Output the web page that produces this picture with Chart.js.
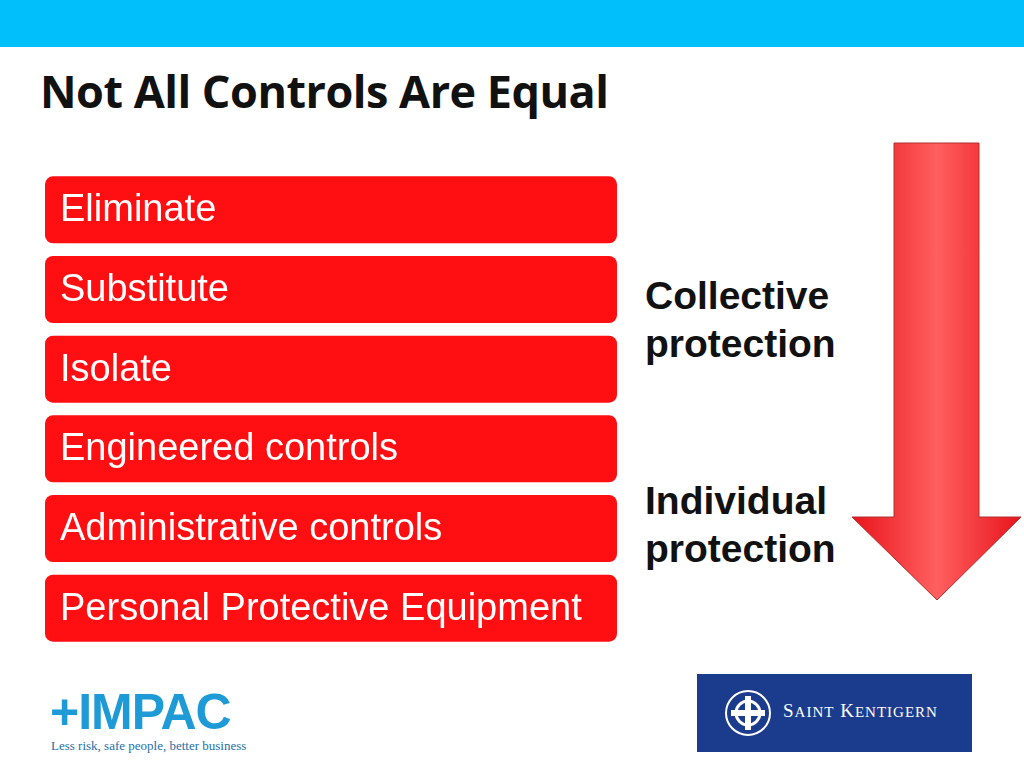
<!DOCTYPE html>
<html><head><meta charset="utf-8">
<script src="https://cdn.jsdelivr.net/npm/chart.js@4"></script>
<style>
body{margin:0;width:1024px;height:768px;overflow:hidden;background:#fff;position:relative;font-family:"Liberation Sans",Arial,sans-serif}
#band{position:absolute;left:0;top:0;width:1024px;height:47px;background:#00BFFA}
#title{position:absolute;left:40px;top:60px;font:bold 45px "Open Sans",sans-serif;letter-spacing:-0.5px;color:#111}
#wrap{position:absolute;left:45px;top:170px;width:572px;height:478px}
.side{position:absolute;left:645px;font:bold 39px "Liberation Sans",Arial;color:#111;line-height:48px}
#arrow{position:absolute;left:850px;top:140px}
#impac{position:absolute;left:50px;top:688px;color:#1E9BD7;font:900 50px "Liberation Sans",Arial;letter-spacing:-1px;line-height:48px}
#tag{position:absolute;left:51px;top:738px;font:13px "Liberation Serif",serif;color:#1E6FA8}
#sk{position:absolute;left:697px;top:674px;width:275px;height:78px;background:#1B3C8C;color:#fff}
#skt{position:absolute;left:86px;top:26px;font:19px "Liberation Serif",serif;letter-spacing:1px}
</style></head><body>
<div id="band"></div>
<div id="title">Not All Controls Are Equal</div>
<div id="wrap"><canvas id="c"></canvas></div>
<div class="side" style="top:272px">Collective<br>protection</div>
<div class="side" style="top:477px">Individual<br>protection</div>
<svg id="arrow" width="175" height="465">
<defs><linearGradient id="g" x1="0" y1="0" x2="1" y2="0"><stop offset="0" stop-color="#E8141C"/><stop offset="0.5" stop-color="#FF5F5F"/><stop offset="1" stop-color="#E8141C"/></linearGradient></defs>
<polygon points="44,3 129,3 129,377 171,377 87,460 2,377 44,377" fill="url(#g)" stroke="#B03030" stroke-width="1"/>
</svg>
<div id="impac">+IMPAC</div>
<div id="tag">Less risk, safe people, better business</div>
<div id="sk"><svg style="position:absolute;left:26px;top:14px" width="50" height="50"><circle cx="25" cy="25" r="22" fill="none" stroke="#fff" stroke-width="2"/><circle cx="25" cy="25" r="12" fill="none" stroke="#fff" stroke-width="3"/><rect x="22" y="8" width="6" height="34" fill="#fff"/><rect x="8" y="22" width="34" height="6" fill="#fff"/></svg><div id="skt">S<span style="font-size:15px">AINT</span> K<span style="font-size:15px">ENTIGERN</span></div></div>
<script>
const categories=["Eliminate","Substitute","Isolate","Engineered controls","Administrative controls","Personal Protective Equipment"];
const values=[1,1,1,1,1,1];
const labelPlugin={id:'lbl',afterDatasetsDraw(ch){const ctx=ch.ctx;const m=ch.getDatasetMeta(0);ctx.save();ctx.fillStyle='#fff';ctx.font='38px "Liberation Sans", Arial';ctx.textBaseline='middle';m.data.forEach((b,i)=>{ctx.fillText(categories[i],b.base+15,b.y+1);});ctx.restore();}};
new Chart(document.getElementById('c'),{type:'bar',data:{labels:categories,datasets:[{data:values,backgroundColor:'#FF0E12',borderRadius:8,borderSkipped:false,barPercentage:0.842,categoryPercentage:1}]},
options:{indexAxis:'y',responsive:true,maintainAspectRatio:false,animation:false,layout:{padding:0},plugins:{legend:{display:false},tooltip:{enabled:false}},
scales:{x:{display:false,min:0,max:1},y:{display:false}}},plugins:[labelPlugin]});
</script>
</body></html>
